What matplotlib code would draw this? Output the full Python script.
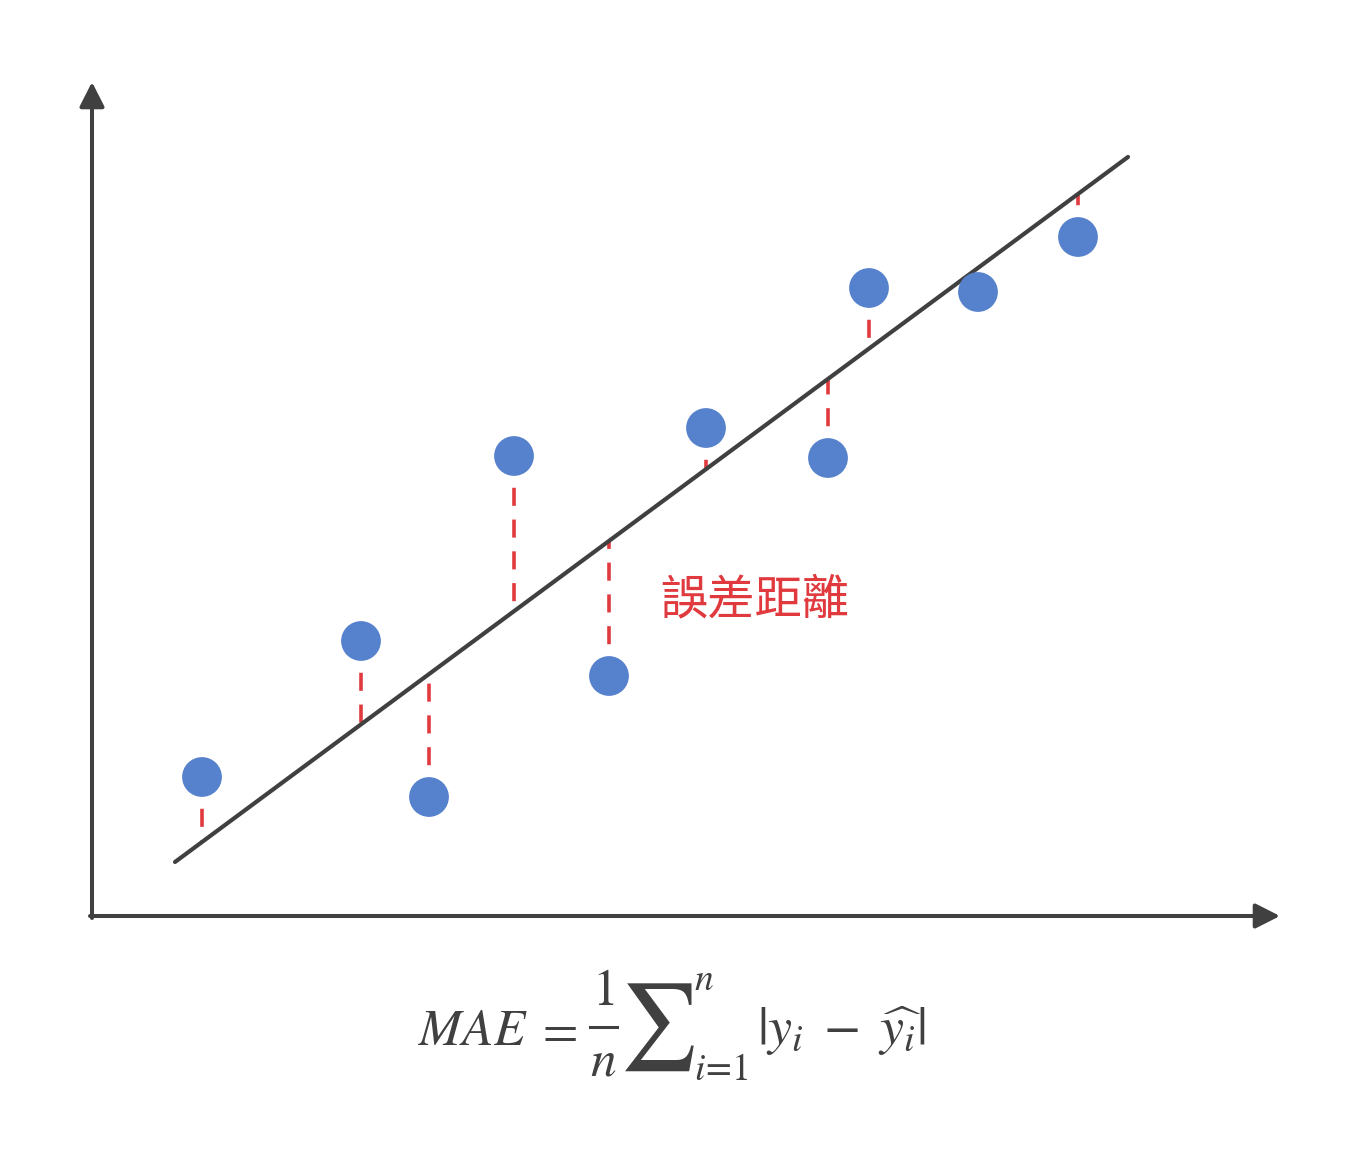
import matplotlib
matplotlib.use("Agg")
import matplotlib.pyplot as plt
import numpy as np

# Data (units: axis origin at 0,0)
pts_x = [1.10, 2.69, 3.37, 4.22, 5.17, 6.14, 7.36, 7.77, 8.86, 9.86]
pts_y = [1.39, 2.75, 1.19, 4.60, 2.40, 4.88, 4.58, 6.28, 6.24, 6.79]
slope = 0.7398
intercept = -0.074
line_x = [0.83, 10.36]

LABEL = "誤差距離"

DARK = "#404040"
BLUE = "#5681CD"
RED = "#E0393E"

W, H = 1355, 1156
plt.rcParams["mathtext.fontset"] = "stix"

fig = plt.figure(figsize=(W / 100, H / 100), dpi=100)
ax = fig.add_axes([0, 0, 1, 1])
# origin at px (92, 916), 100 px per unit
ax.set_xlim(-0.92, (W - 92) / 100)
ax.set_ylim(-(H - 916) / 100, 9.16)
ax.axis("off")

# axes with arrows
arrow_kw = dict(arrowstyle="-|>,head_length=0.75,head_width=0.38", color=DARK, lw=2.9,
                shrinkA=0, shrinkB=0, mutation_scale=20)
ax.annotate("", xy=(11.88, 0), xytext=(-0.02, 0), arrowprops=arrow_kw)
ax.annotate("", xy=(0, 8.34), xytext=(0, -0.02), arrowprops=arrow_kw)

# regression line
lx = np.array(line_x)
ax.plot(lx, slope * lx + intercept, color=DARK, lw=3.0, solid_capstyle="round", zorder=3)

# residuals
for x, y in zip(pts_x, pts_y):
    yl = slope * x + intercept
    ax.plot([x, x], [y, yl], color=RED, lw=2.6, linestyle=(0, (5.0, 3.8)), zorder=2)

ax.scatter(pts_x, pts_y, s=820, color=BLUE, edgecolors="none", zorder=4)

ax.text(6.63, 3.16, LABEL, color=RED, fontsize=34, ha="center", va="center",
        family=["Noto Sans CJK TC", "DejaVu Sans"])


# formula, built piece by piece (pixel positions from top-left)
def ftext(px, py, s, size, **kw):
    fig.text(px / W, 1 - py / H, s, color=DARK, fontsize=size, **kw)


ftext(418, 1045, r"$MAE$", 37, ha="left", va="baseline")
ftext(556, 1045, r"$=$", 37, ha="center", va="baseline")
ftext(603, 1005, r"$1$", 37, ha="center", va="baseline")
fig.add_artist(plt.Line2D([590 / W, 617 / W], [1 - 1027 / H] * 2, color=DARK, lw=2.2))
ftext(603, 1075, r"$n$", 37, ha="center", va="baseline")
ftext(657, 1027, r"$\sum$", 62, ha="center", va="center")
ftext(694, 990, r"$n$", 27, ha="left", va="baseline")
ftext(694, 1080, r"$i\!=\!1$", 27, ha="left", va="baseline")
ftext(757, 1045, r"$|y_i\;-\;\widehat{y_i}|$", 39, ha="left", va="baseline")

fig.savefig("out.png", dpi=100)
